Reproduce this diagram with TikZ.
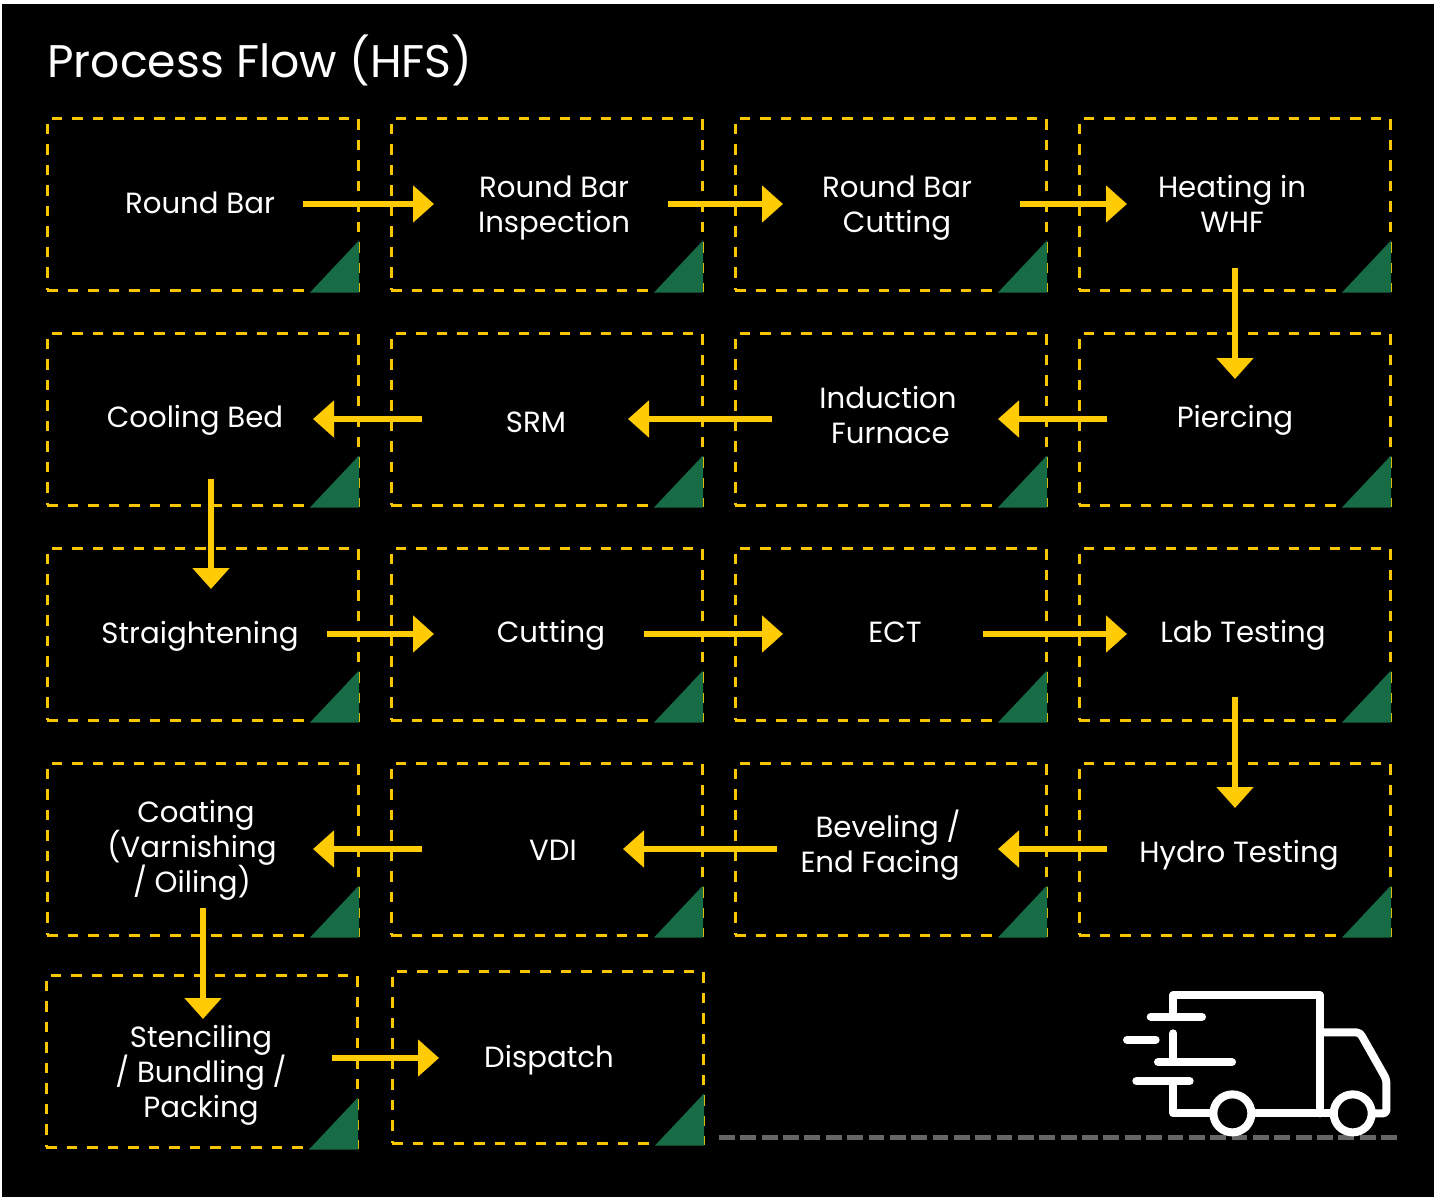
\documentclass[tikz,border=0pt]{standalone}
\usepackage{fontspec}
\setmainfont{Poppins}
\usetikzlibrary{arrows.meta,calc}
\definecolor{flowgold}{HTML}{FFCB05}
\definecolor{boxgold}{HTML}{F7C600}
\definecolor{cornergreen}{HTML}{176B45}
\definecolor{roadgrey}{HTML}{666666}
\newcommand{\stagefont}{\fontsize{14.6}{17.5}\selectfont\setlength{\lineskiplimit}{-8pt}}
\tikzset{
  stagebox/.style={draw=boxgold,line width=1.3pt,dash pattern=on 5.2pt off 5.05pt,minimum width=155.5pt,minimum height=86pt,inner sep=0pt,anchor=north west},
  stagelabel/.style={text=white,align=center,inner sep=0pt,font=\stagefont},
  flowarrow/.style={draw=flowgold,line width=2.6pt,-{Triangle[length=10.5pt,width=18pt,fill=flowgold]}},
  truckline/.style={draw=white,line width=4pt,line cap=round,line join=round},
  corner/.style={fill=cornergreen},
}
\newcommand{\stage}[6]{% name, x, y, labelx, labely, text
  \node[stagebox] (#1) at ({#2-1},{#3-1}) {};
  \fill[corner] ($(#2,#3)+(263,174.5)$) -- ($(#2,#3)+(312,174.5)$) -- ($(#2,#3)+(312,122.5)$) -- cycle;
  \node[stagelabel] (#1t) at (#4,#5) {#6};
}
\newcommand{\flow}[5]{% name, x1, y1, x2, y2
  \coordinate (#1s) at (#2,#3);
  \coordinate (#1e) at (#4,#5);
  \draw[flowarrow] (#1s) -- (#1e);
}
\begin{document}
\begin{tikzpicture}[x=0.5pt,y=-0.5pt]
\useasboundingbox (0,0) rectangle (1436,1199);
\fill[white] (0,0) rectangle (1436,1199);
\fill[black] (2,4) rectangle (1434,1197);
\node[anchor=base west,text=white,inner sep=0pt,font=\fontsize{22.85}{28}\selectfont] (title) at (47,77.5) {Process Flow (HFS)};

\stage{a1}{47}{118}{200}{203}{Round Bar}
\stage{a2}{391}{118}{554}{207.5}{Round Bar\\Inspection}
\stage{a3}{735}{118}{897}{208.5}{Round Bar\\Cutting}
\stage{a4}{1079}{118}{1232}{203.5}{Heating in\\WHF}
\stage{b1}{47}{333}{195}{420}{Cooling Bed}
\stage{b2}{391}{333}{536}{422}{SRM}
\stage{b3}{735}{333}{888}{415.5}{Induction\\\hspace*{2.5pt}Furnace}
\stage{b4}{1079}{333}{1235}{420}{Piercing}
\stage{c1}{47}{548}{200}{636}{Straightening}
\stage{c2}{391}{548}{551}{635}{Cutting}
\stage{c3}{735}{548}{895}{632}{ECT}
\stage{c4}{1079}{548}{1243}{635}{Lab Testing}
\stage{d1}{47}{763}{192}{850}{\hspace*{4pt}Coating\\(Varnishing\\/ Oiling)}
\stage{d2}{391}{763}{553}{850}{VDI}
\stage{d3}{735}{763}{880}{845}{\hspace*{8pt}Beveling /\\End Facing}
\stage{d4}{1079}{763}{1239}{855}{Hydro Testing}
\stage{e1}{46}{975}{201}{1075}{Stenciling\\/ Bundling /\\Packing}
\stage{e2}{392}{971}{549}{1060}{Dispatch}

\flow{f1}{303}{204}{434}{204}
\flow{f2}{668}{204}{783}{204}
\flow{f3}{1020}{204}{1127}{204}
\flow{f4}{1235}{268}{1235}{379}
\flow{f5}{1107}{419}{998}{419}
\flow{f6}{772}{419}{628}{419}
\flow{f7}{422}{419}{313}{419}
\flow{f8}{211}{479}{211}{589}
\flow{f9}{327}{634}{434}{634}
\flow{f10}{644}{634}{783}{634}
\flow{f11}{983}{634}{1127}{634}
\flow{f12}{1235}{697}{1235}{808}
\flow{f13}{1107}{849}{998}{849}
\flow{f14}{777}{849}{623}{849}
\flow{f15}{422}{849}{313}{849}
\flow{f16}{203}{908}{203}{1019}
\flow{f17}{332}{1058}{439}{1058}

\draw[roadgrey,line width=2.6pt,dash pattern=on 7.9pt off 2.78pt] (719,1137.5) -- (1398,1137.5);

\begin{scope}[shift={(1100,970)},x=0.1667pt,y=-0.1667pt]
  \draw[truckline] (220,140) -- (220,76) -- (660,76) -- (660,430);
  \draw[truckline] (220,333) -- (220,430) -- (335,430);
  \draw[truckline] (460,430) -- (695,430);
  \draw[truckline] (660,187) -- (768,187) .. controls (778,187) and (782,192) .. (786,199) -- (850,312) .. controls (856,322) and (859,330) .. (859,342) -- (859,420) .. controls (859,426) and (855,430) .. (849,430) -- (825,430);
  \draw[truckline] (397,430) circle[radius=57];
  \draw[truckline] (758,430) circle[radius=57];
  \draw[truckline] (220,190) -- (220,276);
  \draw[truckline] (152,140) -- (306,140);
  \draw[truckline] (81,209) -- (167,209);
  \draw[truckline] (174,276) -- (396,276);
  \draw[truckline] (109,333) -- (269,333);
\end{scope}
\end{tikzpicture}
\end{document}
